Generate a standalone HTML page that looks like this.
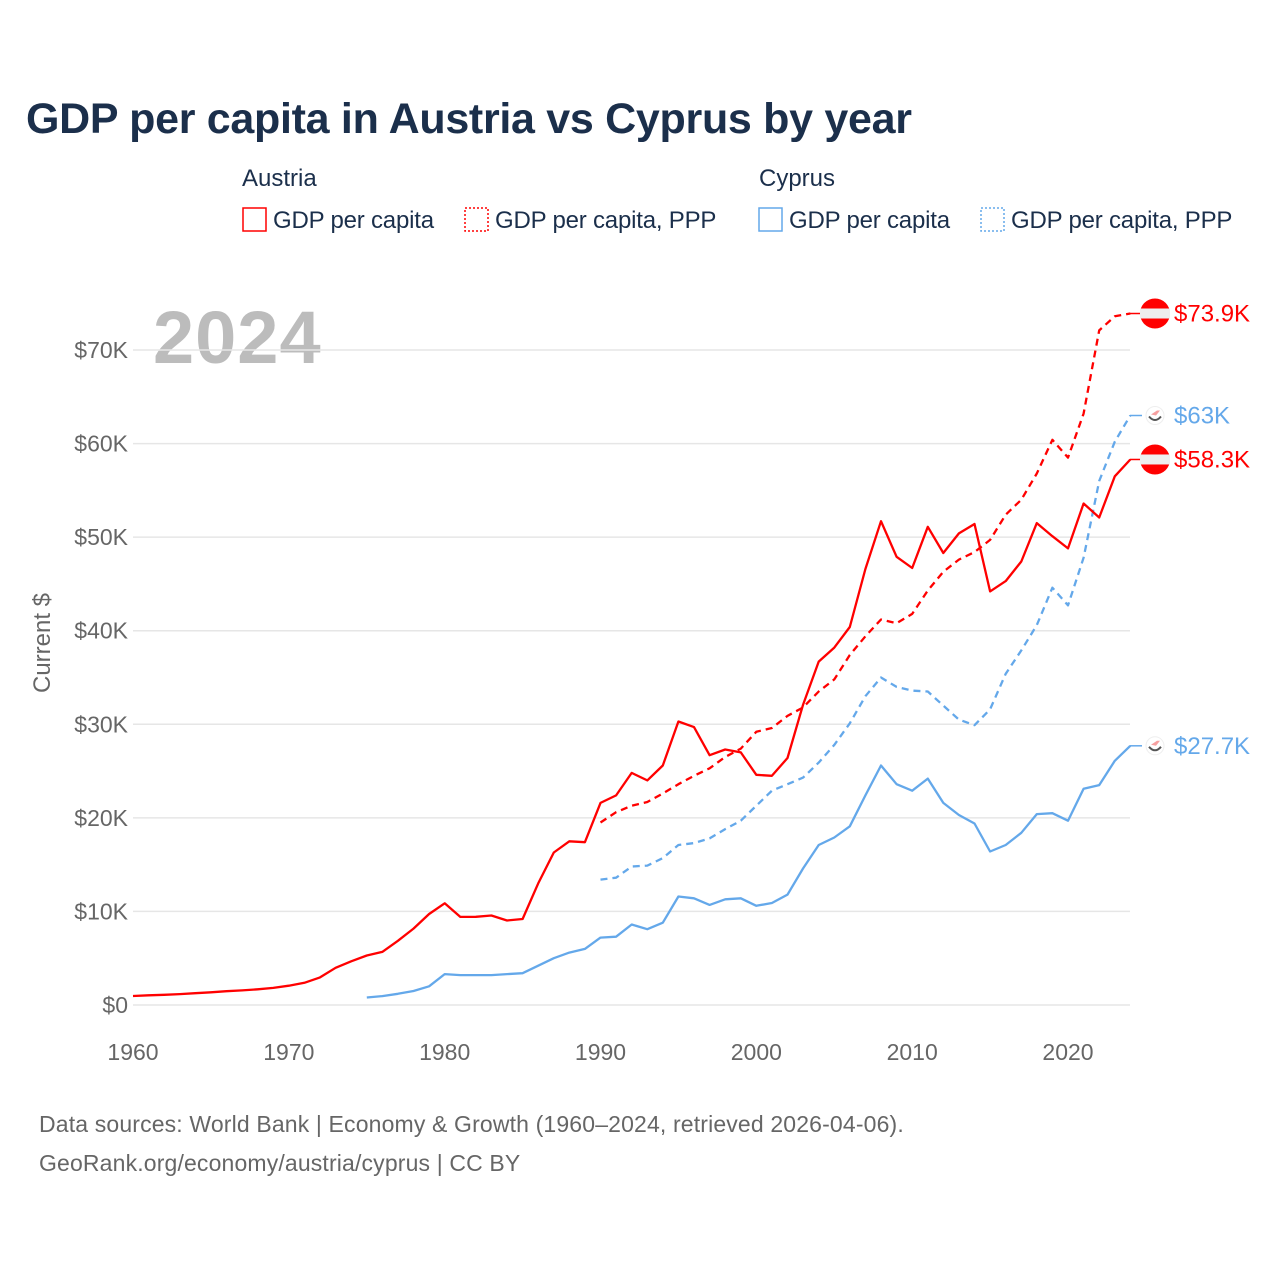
<!DOCTYPE html>
<html><head><meta charset="utf-8"><style>
body{margin:0;background:#fff;font-family:"Liberation Sans",sans-serif;}
svg text{font-family:"Liberation Sans",sans-serif;}
</style></head><body>
<svg width="1280" height="1280" xmlns="http://www.w3.org/2000/svg">
<text x="26" y="133" font-size="43" font-weight="bold" fill="#1b2f4b" letter-spacing="-0.3">GDP per capita in Austria vs Cyprus by year</text>
<g font-size="24" fill="#1b2f4b">
<text x="242" y="186">Austria</text>
<text x="759" y="186">Cyprus</text>
<g><rect x="243" y="208" width="23" height="23" fill="none" stroke="#f00" stroke-width="1.5"/><text x="273" y="228" letter-spacing="-0.2">GDP per capita</text></g>
<g><rect x="465" y="208" width="23" height="23" fill="none" stroke="#f00" stroke-width="1.5" stroke-dasharray="2,2"/><text x="495" y="228" letter-spacing="-0.2">GDP per capita, PPP</text></g>
<g><rect x="759" y="208" width="23" height="23" fill="none" stroke="#64a8ea" stroke-width="1.5"/><text x="789" y="228" letter-spacing="-0.2">GDP per capita</text></g>
<g><rect x="981" y="208" width="23" height="23" fill="none" stroke="#64a8ea" stroke-width="1.5" stroke-dasharray="2,2"/><text x="1011" y="228" letter-spacing="-0.2">GDP per capita, PPP</text></g>
</g>
<text x="153" y="363" font-size="74" font-weight="bold" fill="#bcbcbc" letter-spacing="1">2024</text>
<g id="grid"></g>
<g id="yt" font-size="23" fill="#666" text-anchor="end"></g>
<g id="xt" font-size="23" fill="#666" text-anchor="middle"></g>
<text transform="translate(50,643) rotate(-90)" font-size="24" fill="#666" text-anchor="middle">Current $</text>
<g id="series"></g>
<g id="ends"></g>
<text x="39" y="1132" font-size="23" fill="#666" letter-spacing="0.15">Data sources: World Bank | Economy &amp; Growth (1960–2024, retrieved 2026-04-06).</text>
<text x="39" y="1171" font-size="23" fill="#666" letter-spacing="0.15">GeoRank.org/economy/austria/cyprus | CC BY</text>
</svg>
<script>
const yTicks=[0,10,20,30,40,50,60,70];
const yTickLabels=["$0","$10K","$20K","$30K","$40K","$50K","$60K","$70K"];
const xTicks=[1960,1970,1980,1990,2000,2010,2020];
const austriaGdpStart=1960;
const austriaGdp=[0.96,1.04,1.09,1.16,1.26,1.36,1.47,1.56,1.68,1.83,2.06,2.37,2.95,3.98,4.67,5.29,5.68,6.86,8.17,9.73,10.87,9.42,9.43,9.56,9.03,9.19,13.0,16.3,17.5,17.4,21.6,22.4,24.8,24.0,25.6,30.3,29.7,26.7,27.3,27.0,24.6,24.5,26.4,32.1,36.7,38.2,40.4,46.6,51.7,47.9,46.7,51.1,48.3,50.4,51.4,44.2,45.3,47.4,51.5,50.1,48.8,53.6,52.1,56.5,58.3];
const austriaPppStart=1990;
const austriaPpp=[19.5,20.6,21.3,21.7,22.6,23.6,24.5,25.3,26.5,27.4,29.2,29.6,30.9,31.8,33.5,34.8,37.4,39.4,41.2,40.8,41.8,44.3,46.3,47.6,48.4,49.7,52.4,54.0,56.8,60.4,58.5,63.2,72.1,73.6,73.9];
const cyprusGdpStart=1975;
const cyprusGdp=[0.8,0.95,1.2,1.5,2.0,3.3,3.2,3.2,3.2,3.3,3.4,4.2,5.0,5.6,6.0,7.2,7.3,8.6,8.1,8.8,11.6,11.4,10.7,11.3,11.4,10.6,10.9,11.8,14.6,17.1,17.9,19.1,22.4,25.6,23.6,22.9,24.2,21.6,20.3,19.4,16.4,17.1,18.4,20.4,20.5,19.7,23.1,23.5,26.1,27.7];
const cyprusPppStart=1990;
const cyprusPpp=[13.4,13.6,14.8,14.9,15.7,17.1,17.3,17.8,18.8,19.7,21.3,22.9,23.6,24.3,25.9,27.8,30.1,33.0,35.0,34.0,33.6,33.5,32.0,30.5,29.9,31.6,35.4,37.9,40.6,44.6,42.7,47.8,56.0,60.2,63.0];
const endLabels=["$73.9K","$63K","$58.3K","$27.7K"];

const NS="http://www.w3.org/2000/svg";
const X=y=>133+(y-1960)*(935/60);
const Y=v=>1005-v*(655/70);
function mk(t,a,p){const e=document.createElementNS(NS,t);for(const k in a)e.setAttribute(k,a[k]);p.appendChild(e);return e;}
const grid=document.getElementById('grid'),yt=document.getElementById('yt'),xt=document.getElementById('xt');
yTicks.forEach((v,i)=>{
 const l=mk('line',{x1:133,x2:1130,y1:Y(v),y2:Y(v),stroke:'#e6e6e6','stroke-width':1.5},grid);
 
 
 const t=mk('text',{x:128,y:Y(v)+8},yt);t.textContent=yTickLabels[i];
 
 
});
xTicks.forEach(y=>{
 const t=mk('text',{x:X(y),y:1060},xt);t.textContent=y;
 
 
});
const ser=document.getElementById('series');
function line(start,vals,color,dash,name){
 const d=vals.map((v,i)=>(i?'L':'M')+X(start+i).toFixed(1)+','+Y(v).toFixed(1)).join('');
 const p=mk('path',{d:d,fill:'none',stroke:color,'stroke-width':2.3,'stroke-dasharray':dash,'stroke-linejoin':'round'},ser);
 
 
}
line(cyprusPppStart,cyprusPpp,'#64a8ea','7,5','cyprus-ppp-line');
line(cyprusGdpStart,cyprusGdp,'#64a8ea','none','cyprus-gdp-line');
line(austriaPppStart,austriaPpp,'#f00','7,5','austria-ppp-line');
line(austriaGdpStart,austriaGdp,'#f00','none','austria-gdp-line');
const ends=document.getElementById('ends');
const endVals=[austriaPpp[austriaPpp.length-1],cyprusPpp[cyprusPpp.length-1],austriaGdp[austriaGdp.length-1],cyprusGdp[cyprusGdp.length-1]];
const endColors=['#f00','#64a8ea','#f00','#64a8ea'];
const endFlags=['at','cy','at','cy'];
endVals.forEach((v,i)=>{
 const y=Y(v),g=mk('g',{},ends);
 
 
 mk('line',{x1:1130,x2:1142,y1:y,y2:y,stroke:endColors[i],'stroke-width':1.5},g);
 if(endFlags[i]=='at'){
  mk('circle',{cx:1155,cy:y,r:15,fill:'#f00'},g);
  mk('rect',{x:1140,y:y-5,width:30,height:10,fill:'#eee'},g);
 }else{
  mk('circle',{cx:1155,cy:y,r:9,fill:'#fff',stroke:'#eee'},g);
  mk('path',{d:`M1151,${y-1}l6,-4l3,0l-4,5z`,fill:'#f7a0a0'},g);
  mk('path',{d:`M1149,${y+1}q6,7 12,0`,fill:'none',stroke:'#555','stroke-width':2},g);
 }
 const t=mk('text',{x:1174,y:y+8,'font-size':24,fill:endColors[i]},g);t.textContent=endLabels[i];
});
</script>
</body></html>
